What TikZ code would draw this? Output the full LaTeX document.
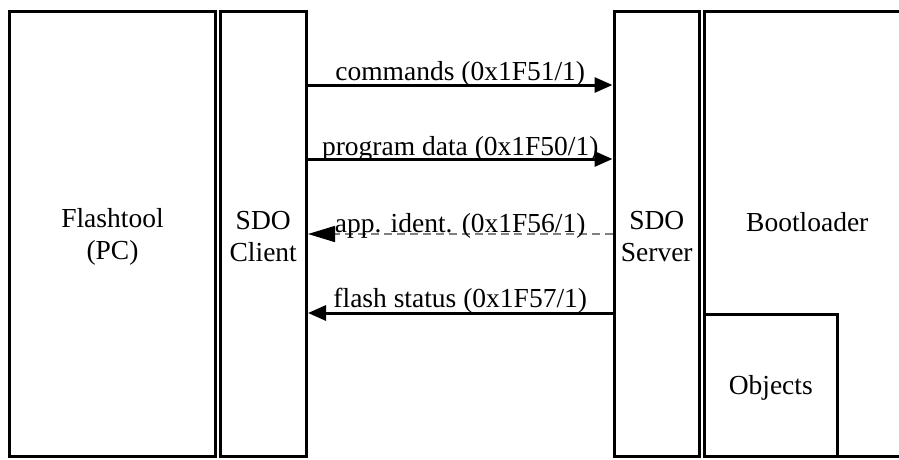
\documentclass[tikz,border=0pt]{standalone}
\usepackage{fontspec}
\setmainfont{Liberation Serif}
\usetikzlibrary{arrows.meta}
\begin{document}
\begin{tikzpicture}[x=1pt, y=-1pt,
  font=\fontsize{27.5}{32}\selectfont,
  block/.style={draw, line width=3pt, inner sep=0pt},
  txt/.style={align=center, inner sep=0pt},
  msg/.style={line width=3pt, -{Triangle[length=18pt, width=15pt]}},
  reply/.style={line width=1.5pt, draw=gray, dash pattern=on 8pt off 5pt,
    -{Triangle[length=27pt, width=16pt, color=black]}},
  lbl/.style={above, inner sep=0pt}]
  \useasboundingbox (0,0) rectangle (899,459);
  \clip (0,0) rectangle (899,459);

  % PC side
  \node[block, minimum width=206pt, minimum height=445.5pt] (flash) at (112.5,233.75) {};
  \node[block, minimum width=86.5pt, minimum height=445.5pt] (client) at (263.25,233.75) {};
  \node[txt] (flashlbl) at (112.5,237) {Flashtool\\(PC)};
  \node[txt] (clientlbl) at (263.25,237) {SDO\\Client};

  % device side
  \node[block, minimum width=85.5pt, minimum height=445.5pt] (server) at (656.75,233.75) {};
  \node[block, minimum width=205.5pt, minimum height=445.5pt] (boot) at (807.25,233.75) {};
  \node[block, minimum width=132.5pt, minimum height=142.5pt] (objects) at (770.75,385.25) {};
  \node[txt] (serverlbl) at (656.75,237) {SDO\\Server};
  \node[txt] (bootlbl) at (807.25,222) {Bootloader};
  \node[txt] (objlbl) at (770.75,388) {Objects};

  % message rows
  \coordinate (r1) at (0,85);
  \coordinate (r2) at (0,159);
  \coordinate (r3) at (0,234);
  \coordinate (r4) at (0,313);

  \draw[msg] (client.east |- r1) -- node[lbl, yshift=-3pt] {commands (0x1F51/1)} (server.west |- r1);
  \draw[msg] (client.east |- r2) -- node[lbl, yshift=-4pt] {program data (0x1F50/1)} (server.west |- r2);
  \draw[reply] (server.west |- r3) -- node[lbl, yshift=-5pt] {app. ident. (0x1F56/1)} (client.east |- r3);
  \draw[msg] (server.west |- r4) -- node[lbl, yshift=-2pt] {flash status (0x1F57/1)} (client.east |- r4);
\end{tikzpicture}
\end{document}
